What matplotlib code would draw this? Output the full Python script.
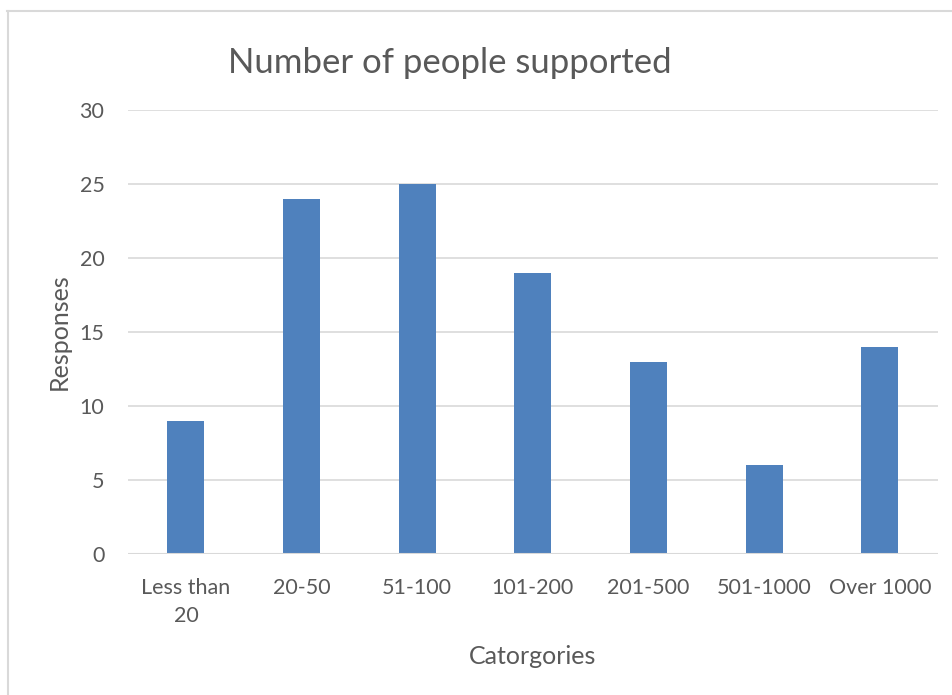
import matplotlib.pyplot as plt
from matplotlib.lines import Line2D

categories = ["Less than\n20", "20-50", "51-100", "101-200", "201-500", "501-1000", "Over 1000"]
responses = [9, 24, 25, 19, 13, 6, 14]
y_ticks = [0, 5, 10, 15, 20, 25, 30]

text_color = "#595959"
grid_color = "#d9d9d9"
bar_color = "#4f81bd"

plt.rcParams["font.family"] = ["Lato", "DejaVu Sans"]

fig = plt.figure(figsize=(9.52, 6.95), dpi=100)
ax = fig.add_axes([0.1345, 0.2029, 0.8505, 0.6388])

x = list(range(len(categories)))
ax.bar(x, responses, width=0.32, color=bar_color, zorder=3)

ax.set_xlim(-0.5, len(categories) - 0.5)
ax.set_ylim(0, 30)
ax.set_yticks(y_ticks)
ax.set_xticks(x)
ax.set_xticklabels(categories, fontsize=15.5, color=text_color, linespacing=1.5)
ax.tick_params(axis="y", labelsize=15.5, labelcolor=text_color, length=0, pad=17)
ax.tick_params(axis="x", length=0, pad=17)
ax.grid(axis="y", color=grid_color, linewidth=1.2, zorder=0)
for s in ax.spines.values():
    s.set_visible(False)
ax.axhline(0, color=grid_color, linewidth=1.5, zorder=4)

ax.set_xlabel("Catorgories", fontsize=18, color=text_color, labelpad=14)
ax.set_ylabel("Responses", fontsize=18, color=text_color, labelpad=6)
fig.text(0.472, 0.91, "Number of people supported", fontsize=25, color=text_color,
         ha="center", va="center")

# chart border (only top and left edges show)
fig.add_artist(Line2D([7 / 952, 1], [1 - 10.5 / 695] * 2, color=grid_color, linewidth=1.5,
                      transform=fig.transFigure))
fig.add_artist(Line2D([7.5 / 952] * 2, [0, 1 - 10.5 / 695], color=grid_color, linewidth=1.5,
                      transform=fig.transFigure))

fig.savefig("out.png", dpi=100)
